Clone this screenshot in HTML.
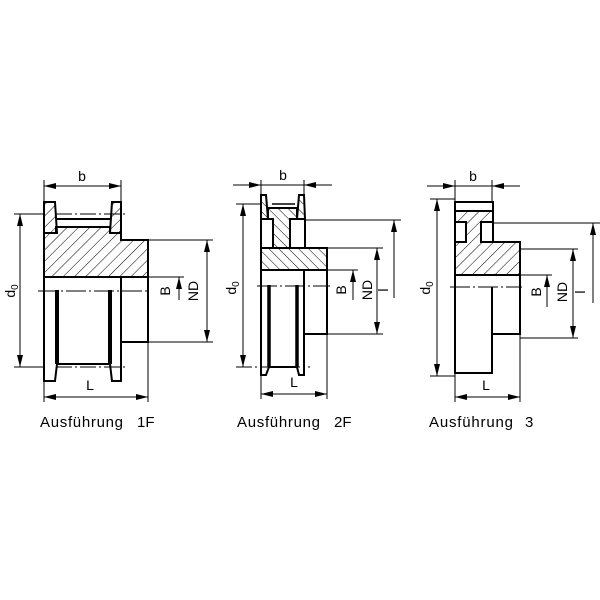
<!DOCTYPE html>
<html><head><meta charset="utf-8"><style>html,body{margin:0;padding:0;background:#fff}svg{display:block}</style></head>
<body>
<svg width="600" height="600" viewBox="0 0 600 600" xmlns="http://www.w3.org/2000/svg" font-family="Liberation Sans, DejaVu Sans, sans-serif">
<defs>
<pattern id="h1" patternUnits="userSpaceOnUse" width="8" height="8" patternTransform="rotate(45)">
<line x1="0" y1="0" x2="0" y2="8" stroke="#000" stroke-width="1"/></pattern>
<pattern id="h2" patternUnits="userSpaceOnUse" width="7" height="7" patternTransform="rotate(-45)">
<line x1="0" y1="0" x2="0" y2="7" stroke="#000" stroke-width="1"/></pattern>
<marker id="a" viewBox="0 0 12 6" refX="12" refY="3" markerWidth="12" markerHeight="6" markerUnits="userSpaceOnUse" orient="auto-start-reverse"><path d="M0,0 L12,3 L0,6z" fill="#000"/></marker>
</defs>
<g stroke="#000" fill="none">
<!-- ===== FIG 1 ===== -->
<g stroke-width="1">
<line x1="44" y1="180" x2="44" y2="202"/><line x1="121" y1="180" x2="121" y2="202"/>
<line x1="44" y1="186" x2="121" y2="186" marker-start="url(#a)" marker-end="url(#a)"/>
<line x1="14" y1="214" x2="44" y2="214"/><line x1="14" y1="367" x2="44" y2="367"/>
<line x1="20" y1="214" x2="20" y2="367" marker-start="url(#a)" marker-end="url(#a)"/>
<line x1="148" y1="240" x2="213" y2="240"/><line x1="148" y1="342" x2="213" y2="342"/>
<line x1="207" y1="240" x2="207" y2="342" marker-start="url(#a)" marker-end="url(#a)"/>
<line x1="148" y1="277" x2="184" y2="277"/>
<line x1="179" y1="300" x2="179" y2="277" marker-end="url(#a)"/>
<line x1="148" y1="343" x2="148" y2="402"/><line x1="44" y1="382" x2="44" y2="402"/>
<line x1="44" y1="397" x2="148" y2="397" marker-start="url(#a)" marker-end="url(#a)"/>
<line x1="56" y1="214" x2="128" y2="214" stroke-dasharray="16,3,2,3"/>
<line x1="56" y1="367" x2="128" y2="367" stroke-dasharray="16,3,2,3"/>
<line x1="38" y1="291" x2="150" y2="291" stroke-dasharray="20,3,2,3"/>
</g>
<g stroke-width="2">
<path d="M44,233 L56,233 L56,227 L110,227 L110,233 L121,233 L121,240 L148,240 L148,277 L44,277Z" fill="url(#h1)"/>
<path d="M44,202 L55,202 L57,233 L44,233Z" fill="url(#h1)"/>
<path d="M110,233 L112,202 L121,202 L121,233Z" fill="url(#h1)"/>
<line x1="57" y1="219" x2="110" y2="219"/>
<path d="M44,277 L44,381 L55,381 L57,364 L57,290"/>
<path d="M110,290 L110,364 L112,381 L121,381 L121,277"/>
<line x1="57" y1="364" x2="110" y2="364"/>
<path d="M121,342 L148,342 L148,277"/>
</g>
<line x1="57" y1="290" x2="57" y2="364" stroke-width="4"/>
<line x1="110" y1="290" x2="110" y2="364" stroke-width="4"/>

<!-- ===== FIG 2 ===== -->
<g stroke-width="1">
<line x1="261" y1="180" x2="261" y2="195"/><line x1="304" y1="180" x2="304" y2="195"/>
<line x1="233" y1="185" x2="261" y2="185" marker-end="url(#a)"/>
<line x1="332" y1="185" x2="304" y2="185" marker-end="url(#a)"/>
<line x1="261" y1="185" x2="304" y2="185"/>
<line x1="236" y1="204" x2="261" y2="204"/><line x1="236" y1="367" x2="310" y2="367" stroke-dasharray="16,3,2,3"/>
<line x1="243" y1="204" x2="243" y2="367" marker-start="url(#a)" marker-end="url(#a)"/>
<line x1="305" y1="220" x2="401" y2="220"/>
<line x1="394" y1="298" x2="394" y2="220" marker-end="url(#a)"/>
<line x1="327" y1="248" x2="383" y2="248"/><line x1="327" y1="334" x2="383" y2="334"/>
<line x1="377" y1="248" x2="377" y2="334" marker-start="url(#a)" marker-end="url(#a)"/>
<line x1="327" y1="270" x2="358" y2="270"/>
<line x1="353" y1="300" x2="353" y2="270" marker-end="url(#a)"/>
<line x1="261" y1="376" x2="261" y2="399"/><line x1="327" y1="335" x2="327" y2="399"/>
<line x1="261" y1="394" x2="327" y2="394" marker-start="url(#a)" marker-end="url(#a)"/>
<line x1="257" y1="286" x2="330" y2="286" stroke-dasharray="20,3,2,3"/>
</g>
<g stroke-width="2">
<rect x="261" y="248" width="66" height="22" fill="url(#h2)"/>
<path d="M268,208 L297,208 L297,219 L290,219 L290,248 L273,248 L273,219 L268,219Z" fill="url(#h2)"/>
<path d="M261,195 L266,195 L268,219 L261,219Z" fill="url(#h2)"/>
<path d="M297,219 L299,195 L304,195 L305,219Z" fill="url(#h2)"/>
<rect x="261" y="219" width="12" height="29" fill="#fff"/>
<rect x="290" y="219" width="15" height="29" fill="#fff"/>
<line x1="272" y1="204" x2="295" y2="204" stroke-width="1.5"/>
<path d="M261,270 L261,375 L266,375 L269,367 L269,285"/>
<path d="M297,285 L297,367 L299,375 L304,375 L304,270"/>
<line x1="269" y1="367" x2="297" y2="367"/>
<path d="M304,334 L327,334 L327,270"/>
</g>
<line x1="269" y1="285" x2="269" y2="367" stroke-width="3.5"/>
<line x1="297" y1="285" x2="297" y2="367" stroke-width="3.5"/>

<!-- ===== FIG 3 ===== -->
<g stroke-width="1">
<line x1="455" y1="180" x2="455" y2="202"/><line x1="492" y1="180" x2="492" y2="202"/>
<line x1="427" y1="186" x2="455" y2="186" marker-end="url(#a)"/>
<line x1="520" y1="186" x2="492" y2="186" marker-end="url(#a)"/>
<line x1="455" y1="186" x2="492" y2="186"/>
<line x1="430" y1="199" x2="455" y2="199"/><line x1="430" y1="376" x2="455" y2="376"/>
<line x1="437" y1="199" x2="437" y2="376" marker-start="url(#a)" marker-end="url(#a)"/>
<line x1="493" y1="223" x2="600" y2="223"/>
<line x1="593" y1="303" x2="593" y2="223" marker-end="url(#a)"/>
<line x1="520" y1="249" x2="578" y2="249"/><line x1="520" y1="338" x2="578" y2="338"/>
<line x1="573" y1="249" x2="573" y2="338" marker-start="url(#a)" marker-end="url(#a)"/>
<line x1="520" y1="275" x2="552" y2="275"/>
<line x1="547" y1="307" x2="547" y2="275" marker-end="url(#a)"/>
<line x1="455" y1="374" x2="455" y2="402"/><line x1="520" y1="334" x2="520" y2="402"/>
<line x1="455" y1="397" x2="520" y2="397" marker-start="url(#a)" marker-end="url(#a)"/>
<line x1="450" y1="287" x2="522" y2="287" stroke-dasharray="20,3,2,3"/>
</g>
<g stroke-width="2">
<path d="M455,211 L493,211 L493,242 L520,242 L520,275 L455,275Z" fill="url(#h1)"/>
<rect x="455" y="222" width="11" height="20" fill="#fff"/>
<rect x="481" y="222" width="12" height="20" fill="#fff"/>
<rect x="455" y="202" width="38" height="9"/>
<path d="M455,275 L455,373 L492,373 L492,287"/>
<path d="M492,334 L520,334 L520,275"/>
</g>
</g>
<g fill="#000" font-size="14">
<text x="82" y="181" text-anchor="middle">b</text>
<text x="283" y="180" text-anchor="middle">b</text>
<text x="473" y="181" text-anchor="middle">b</text>
<text x="90" y="390" text-anchor="middle">L</text>
<text x="294" y="387" text-anchor="middle">L</text>
<text x="486" y="390" text-anchor="middle">L</text>
<text transform="translate(15,291) rotate(-90)" text-anchor="middle">d<tspan font-size="10" dy="3">0</tspan></text>
<text transform="translate(236,288) rotate(-90)" text-anchor="middle">d<tspan font-size="10" dy="3">0</tspan></text>
<text transform="translate(430,288) rotate(-90)" text-anchor="middle">d<tspan font-size="10" dy="3">0</tspan></text>
<text transform="translate(170,291) rotate(-90)" text-anchor="middle">B</text>
<text transform="translate(198,291) rotate(-90)" text-anchor="middle">ND</text>
<text transform="translate(346,290) rotate(-90)" text-anchor="middle">B</text>
<text transform="translate(372,290) rotate(-90)" text-anchor="middle">ND</text>
<text transform="translate(388,290) rotate(-90)" text-anchor="middle">l</text>
<text transform="translate(541,292) rotate(-90)" text-anchor="middle">B</text>
<text transform="translate(567,292) rotate(-90)" text-anchor="middle">ND</text>
<text transform="translate(585,292) rotate(-90)" text-anchor="middle">l</text>
<g font-size="15">
<text x="40" y="427" textLength="83" lengthAdjust="spacing">Ausführung</text><text x="137" y="427">1F</text>
<text x="237" y="427" textLength="83" lengthAdjust="spacing">Ausführung</text><text x="334" y="427">2F</text>
<text x="429" y="427" textLength="84" lengthAdjust="spacing">Ausführung</text><text x="525" y="427">3</text>
</g>
</g>
</svg>
</body></html>
